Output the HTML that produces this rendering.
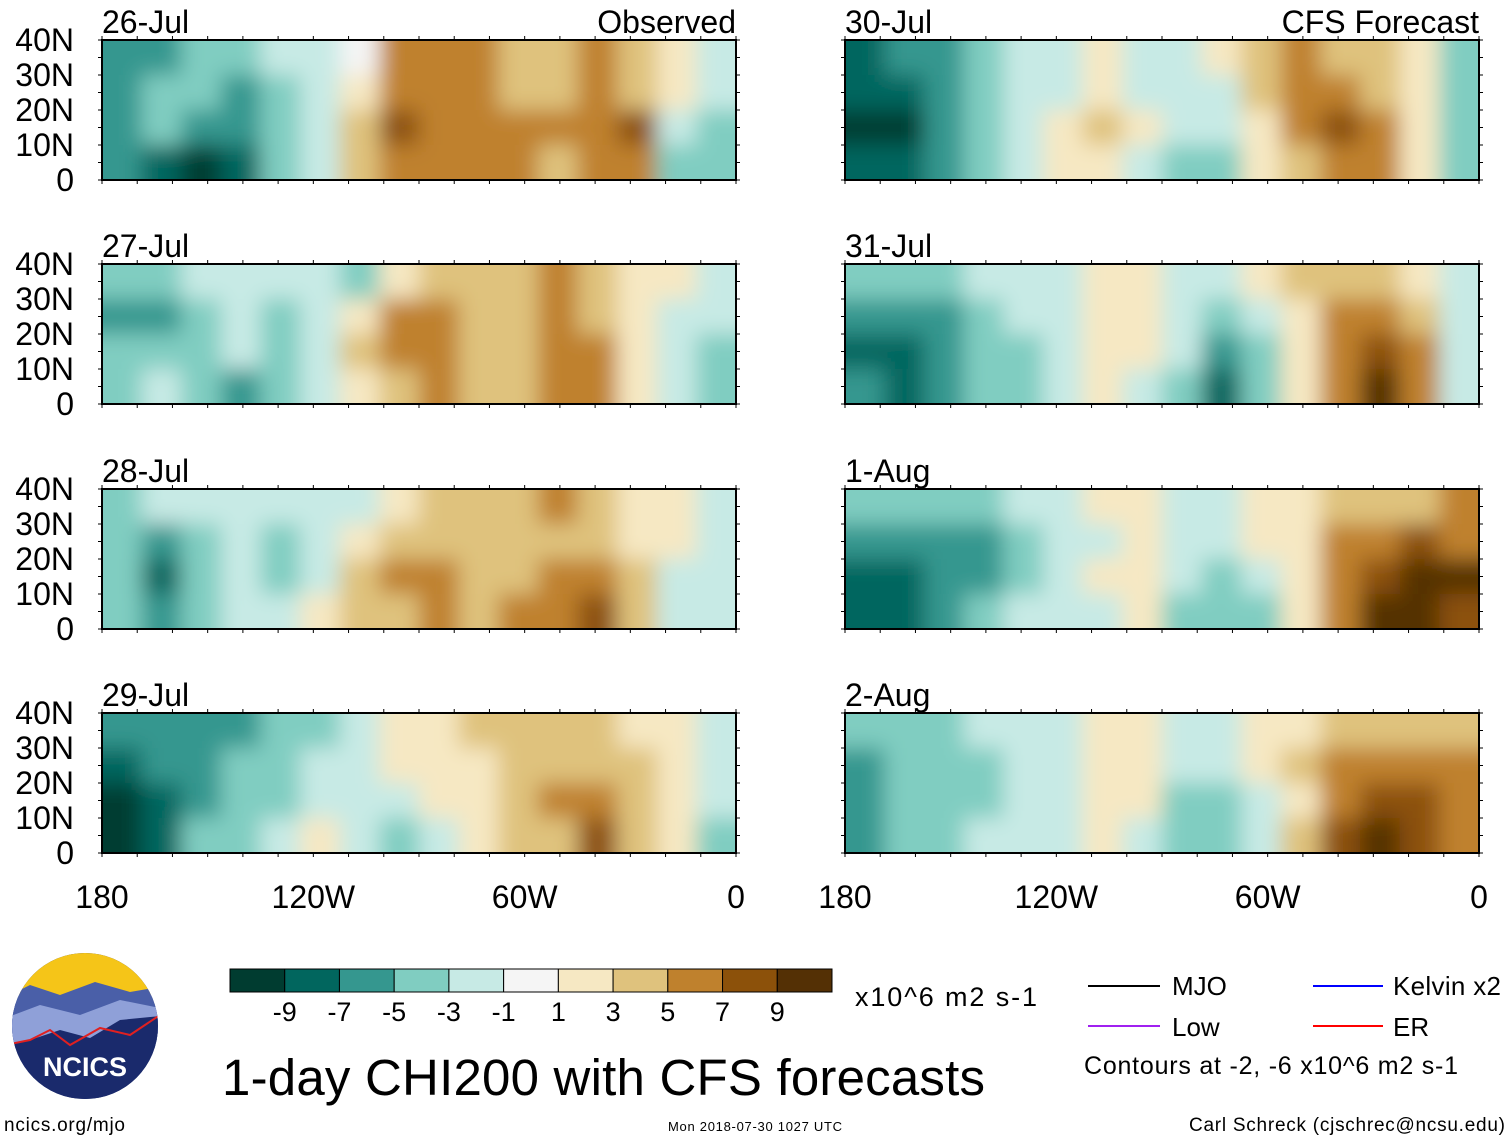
<!DOCTYPE html>
<html><head><meta charset="utf-8"><style>
body{margin:0;background:#fff;width:1510px;height:1141px;overflow:hidden;font-family:"Liberation Sans",sans-serif}
svg text{font-family:"Liberation Sans",sans-serif}
</style></head><body>
<svg id="chart" width="1510" height="1141" xmlns="http://www.w3.org/2000/svg">
<defs><filter id="bl" x="-5%" y="-10%" width="110%" height="120%"><feGaussianBlur stdDeviation="11"/></filter></defs>
<g id="panels"></g>
<g id="colorbar"></g>
<text x="855" y="1006" font-size="27" textLength="182">x10^6 m2 s-1</text>
<text x="222" y="1095" font-size="51" textLength="763">1-day CHI200 with CFS forecasts</text>
<g font-size="26">
<line x1="1088" y1="986" x2="1160" y2="986" stroke="#000" stroke-width="2"/><text x="1172" y="995">MJO</text>
<line x1="1313" y1="986" x2="1383" y2="986" stroke="#0000ff" stroke-width="2"/><text x="1393" y="995" textLength="108">Kelvin x2</text>
<line x1="1088" y1="1026" x2="1160" y2="1026" stroke="#a020f0" stroke-width="2"/><text x="1172" y="1036">Low</text>
<line x1="1313" y1="1026" x2="1383" y2="1026" stroke="#ff0000" stroke-width="2"/><text x="1393" y="1036">ER</text>
<text x="1084" y="1074" font-size="25" textLength="374">Contours at -2, -6 x10^6 m2 s-1</text>
</g>
<g>
<clipPath id="lc"><circle cx="85" cy="1026" r="73"/></clipPath>
<g clip-path="url(#lc)">
<rect x="0" y="950" width="170" height="160" fill="#1a2a6c"/>
<rect x="0" y="950" width="170" height="45" fill="#f5c518"/>
<path d="M0 1000 L30 985 L60 995 L95 982 L130 992 L170 985 L170 1040 L0 1040Z" fill="#4a5fa8"/>
<path d="M0 1020 L40 1005 L80 1015 L120 1000 L170 1010 L170 1045 L0 1045Z" fill="#8fa0d8"/>
<path d="M0 1045 L30 1040 L60 1030 L90 1038 L120 1020 L170 1015 L170 1110 L0 1110Z" fill="#1a2a6c"/>
<path d="M5 1045 L30 1040 L50 1030 L70 1045 L100 1028 L130 1035 L160 1015" stroke="#e02020" stroke-width="2" fill="none"/>
</g>
<text x="85" y="1076" font-size="27" font-weight="bold" fill="#fff" text-anchor="middle">NCICS</text>
</g>
<text x="4" y="1131" font-size="19" textLength="121">ncics.org/mjo</text>
<text x="668" y="1131" font-size="13" textLength="174">Mon 2018-07-30 1027 UTC</text>
<text x="1189" y="1131" font-size="19" textLength="316">Carl Schreck (cjschrec@ncsu.edu)</text>
</svg>
<script>
const colors=["#003c30","#01665e","#35978f","#80cdc1","#c7eae5","#f5f5f5","#f6e8c3","#dfc27d","#bf812d","#8c510a","#543005"];
const cbLabels=["-9","-7","-5","-3","-1","1","3","5","7","9"];
const panelTitles=["26-Jul","27-Jul","28-Jul","29-Jul","30-Jul","31-Jul","1-Aug","2-Aug"];
const latLabels=["40N","30N","20N","10N","0"];
const lonLabels=["180","120W","60W","0"];
const p26=[[-5,-5,-3,-3,-1,-1,0,5,5,5,3,3,5,3,1,-1],[-5,-3,-3,-5,-3,-1,1,5,5,5,3,3,5,3,1,-1],[-5,-3,-5,-5,-3,-1,3,7,5,5,5,5,5,7,-1,-3],[-5,-7,-9,-7,-3,-1,3,5,5,5,5,3,5,5,-3,-3]];
const p27=[[-3,-3,-1,-1,-1,-1,-3,1,3,3,3,5,3,1,1,-1],[-5,-5,-3,-1,-3,-1,1,5,5,3,3,5,3,1,-1,-1],[-3,-3,-3,-1,-3,-1,3,5,5,3,3,5,5,1,-1,-3],[-3,-1,-3,-5,-3,-1,1,3,5,3,3,5,5,1,-1,-3]];
const p28=[[-3,-1,-1,-1,-1,-1,-1,1,3,3,3,5,3,1,1,-1],[-3,-5,-3,-1,-3,-1,1,3,3,3,3,3,3,1,1,-1],[-3,-7,-3,-1,-3,-1,3,5,5,3,3,5,5,3,-1,-1],[-3,-5,-3,-1,-1,1,3,3,5,3,5,5,7,3,-1,-1]];
const p29=[[-5,-5,-5,-5,-3,-3,-1,1,1,3,3,3,3,1,1,-1],[-7,-5,-5,-3,-3,-1,-1,1,1,1,3,3,3,3,1,-1],[-9,-7,-5,-3,-3,-1,-1,-1,1,1,3,5,5,3,1,-1],[-9,-7,-3,-3,-1,1,-1,-3,-1,1,3,3,7,3,1,-3]];
const p30=[[-7,-5,-5,-3,-1,-1,1,-1,-1,1,3,5,3,3,1,-3],[-7,-7,-5,-3,-1,-1,1,-1,-1,-1,3,5,5,3,1,-3],[-9,-9,-5,-3,-1,1,3,1,-1,-1,1,5,7,5,1,-3],[-7,-7,-5,-3,-1,1,1,-1,-3,-3,1,3,5,5,1,-3]];
const p31=[[-3,-3,-3,-1,-1,-1,1,1,-1,-1,1,3,3,3,1,-1],[-5,-5,-5,-3,-1,-1,1,1,-1,-3,-1,1,5,5,3,-1],[-7,-7,-5,-3,-3,-1,1,1,-1,-5,-3,1,5,7,5,-1],[-5,-7,-5,-3,-3,-1,1,-1,-3,-7,-3,1,5,9,5,-1]];
const p01=[[-3,-3,-3,-3,-1,-1,1,1,-1,-1,1,1,3,3,3,5],[-5,-5,-5,-5,-3,-1,-1,1,-1,-1,1,1,5,5,7,5],[-7,-7,-5,-5,-3,-1,1,1,-1,-3,-1,1,5,7,9,9],[-7,-7,-5,-3,-1,-1,-1,1,-3,-3,-3,1,5,9,9,7]];
const p02=[[-3,-3,-3,-1,-1,-1,1,1,-1,-1,1,1,3,3,3,3],[-5,-3,-3,-3,-1,-1,1,1,-1,-1,1,3,5,5,5,5],[-5,-3,-3,-3,-1,-1,1,1,-3,-3,-1,1,5,7,7,5],[-5,-3,-3,-1,-1,-1,1,-1,-3,-3,-1,3,7,9,7,5]];
const fields=[p26,p27,p28,p29,p30,p31,p01,p02];
const NS="http://www.w3.org/2000/svg";
function mk(t,a,p){const e=document.createElementNS(NS,t);for(const k in a)e.setAttribute(k,a[k]);p.appendChild(e);return e;}
function cidx(v){if(v===0)return 5;return v<0?Math.max(0,4-(-v-1)/2):Math.min(10,6+(v-1)/2);}
const PW=634,PH=140,colX=[102,845],rowY=[40,264,489,713];
function xScale(x0,lon){return x0+(180-lon)/180*PW;}
function yScale(y0,lat){return y0+(40-lat)/40*PH;}
const root=document.getElementById('panels');
fields.forEach((f,i)=>{
 const x0=colX[i<4?0:1],y0=rowY[i%4];
 const g=mk('g',{},root);
 
 
 const cp=mk('clipPath',{id:'c'+i},g);mk('rect',{x:x0,y:y0,width:PW,height:PH},cp);
 const cg=mk('g',{'clip-path':'url(#c'+i+')'},g);
 mk('rect',{x:x0,y:y0,width:PW,height:PH,fill:'#f5f5f5'},cg);
 const hg=mk('g',{filter:'url(#bl)'},cg);
 const nc=f[0].length,nr=f.length,dl=180/nc,dt=40/nr;
 f.forEach((row,r)=>row.forEach((v,c)=>{
  let xa=xScale(x0,180-c*dl),xb=xScale(x0,180-(c+1)*dl),ya=yScale(y0,40-r*dt),yb=yScale(y0,40-(r+1)*dt);
  if(c===0)xa-=30;if(c===nc-1)xb+=30;if(r===0)ya-=30;if(r===nr-1)yb+=30;
  const rc=mk('rect',{x:xa,y:ya,width:xb-xa+1,height:yb-ya+1,fill:colors[cidx(v)]},hg);
  
  
 }));
 mk('rect',{x:x0,y:y0,width:PW,height:PH,fill:'none',stroke:'#000','stroke-width':2},g);
 for(let lon=0;lon<=180;lon+=10){const x=xScale(x0,lon);mk('line',{x1:x,y1:y0,x2:x,y2:y0-4,stroke:'#000'},g);mk('line',{x1:x,y1:y0+PH,x2:x,y2:y0+PH+4,stroke:'#000'},g);}
 for(let lat=0;lat<=40;lat+=5){const y=yScale(y0,lat);mk('line',{x1:x0,y1:y,x2:x0-4,y2:y,stroke:'#000'},g);mk('line',{x1:x0+PW,y1:y,x2:x0+PW+4,y2:y,stroke:'#000'},g);}
 const t=mk('text',{x:x0,y:y0-7,'font-size':32},g);t.textContent=panelTitles[i];
 
 
 if(i<4){latLabels.forEach((l,k)=>{const tt=mk('text',{x:74,y:yScale(y0,40-k*10)+11,'font-size':32,'text-anchor':'end'},g);tt.textContent=l;
  
  });}
 if(i===0||i===4){const tt=mk('text',{x:x0+PW,y:y0-7,'font-size':32,'text-anchor':'end'},g);tt.textContent=i===0?'Observed':'CFS Forecast';
  
  }
 if(i%4===3){lonLabels.forEach((l,k)=>{const tt=mk('text',{x:xScale(x0,180-k*60),y:908,'font-size':32,'text-anchor':'middle'},g);tt.textContent=l;
  
  });}
});
const cb=document.getElementById('colorbar'),bw=602/11;
colors.forEach((c,k)=>{const r=mk('rect',{x:230+k*bw,y:969,width:bw,height:23,fill:c,stroke:'#000'},cb);
 
 });
cbLabels.forEach((l,k)=>{const t=mk('text',{x:230+(k+1)*bw,y:1021,'font-size':27,'text-anchor':'middle'},cb);t.textContent=l;
 
 });
</script>
</body></html>
